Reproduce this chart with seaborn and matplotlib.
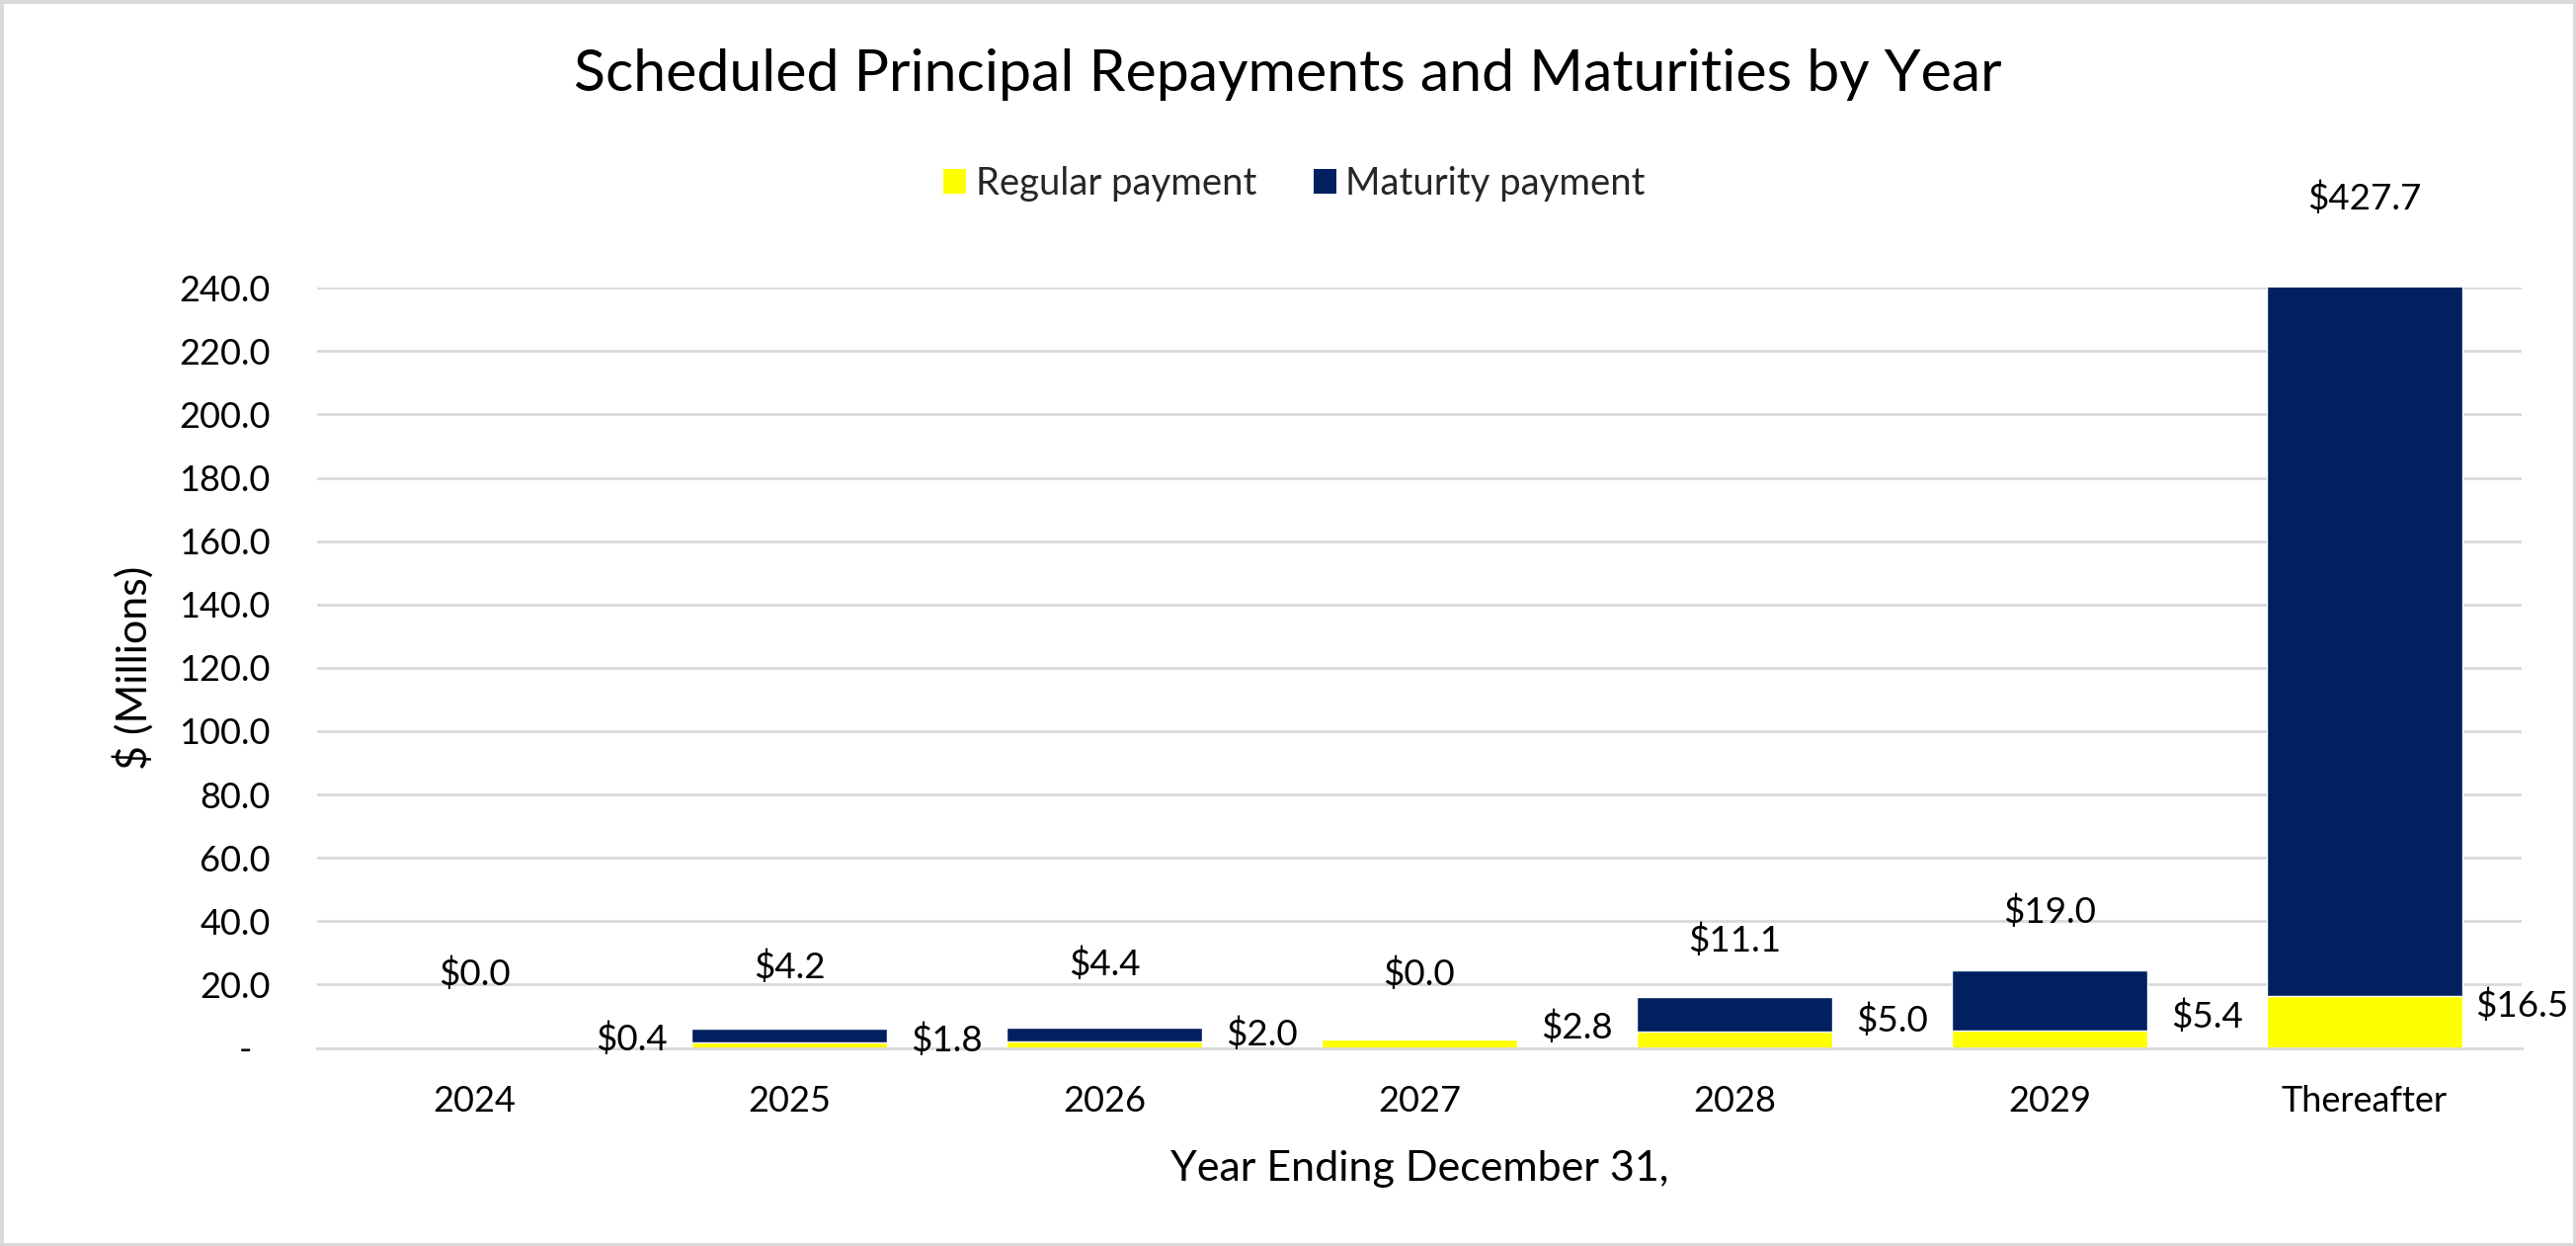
import matplotlib
matplotlib.use("Agg")
import matplotlib.pyplot as plt
from matplotlib.patches import Patch
import seaborn as sns
import pandas as pd
import numpy as np

# ---- data ----
years = ["2024", "2025", "2026", "2027", "2028", "2029", "Thereafter"]
regular_payment = [0.4, 1.8, 2.0, 2.8, 5.0, 5.4, 16.5]
maturity_payment = [0.0, 4.2, 4.4, 0.0, 11.1, 19.0, 427.7]
y_ticks = [0, 20, 40, 60, 80, 100, 120, 140, 160, 180, 200, 220, 240]

# label placement (layout only, data units)
maturity_label_y = [23.4, 25.6, 26.5, 23.4, 34.0, 43.0, 268.4]
regular_label_y = [2.8, 2.5, 4.4, 6.5, 8.7, 10.0, 13.4]

YELLOW = "#FFFF00"
NAVY = "#002060"
GRID = "#D9D9D9"
FONT = ["Lato", "DejaVu Sans"]

sns.set_theme(style="white")
plt.rcParams["font.family"] = FONT

df = pd.DataFrame({
    "year": years,
    "regular": regular_payment,
    "maturity": maturity_payment,
})
df["total"] = df["regular"] + df["maturity"]

fig = plt.figure(figsize=(26.08, 12.61), dpi=100, facecolor="white",
                 edgecolor=GRID, linewidth=5)
ax = fig.add_axes([0.123, 0.159, 0.979 - 0.123, 0.769 - 0.159])

sns.barplot(data=df, x="year", y="total", order=years, color=NAVY,
            width=0.62, saturation=1, ax=ax, zorder=2)
sns.barplot(data=df, x="year", y="regular", order=years, color=YELLOW,
            width=0.62, saturation=1, ax=ax, zorder=2)

ax.set_ylim(0, 240)
ax.set_xlim(-0.5, len(years) - 0.5)
ax.set_yticks(y_ticks)
ax.set_yticklabels(["-  " if v == 0 else f"{v:.1f}" for v in y_ticks])
ax.yaxis.grid(True, color=GRID, linewidth=2.0, zorder=0)
ax.set_axisbelow(True)
for s in ["top", "right", "left"]:
    ax.spines[s].set_visible(False)
ax.spines["bottom"].set_color(GRID)
ax.spines["bottom"].set_linewidth(2.0)
ax.spines["bottom"].set_zorder(3)

ax.tick_params(axis="y", length=0, pad=34, labelsize=26, colors="black")
ax.tick_params(axis="x", which="major", length=0, pad=27, labelsize=26, colors="black")
ax.set_xticks(np.arange(-0.5, len(years), 1.0), minor=True)
ax.tick_params(axis="x", which="minor", length=9, width=2.0, color=GRID)

ax.set_xlabel("Year Ending December 31,", fontsize=31, labelpad=24, color="black")
ax.set_ylabel("$ (Millions)", fontsize=31, labelpad=18, color="black")

for i in range(len(years)):
    ax.text(i, maturity_label_y[i], f"${maturity_payment[i]:.1f}",
            ha="center", va="center", fontsize=26.5, color="black",
            clip_on=False, zorder=5)
    ax.text(i + 0.5, regular_label_y[i], f"${regular_payment[i]:.1f}",
            ha="center", va="center", fontsize=26.5, color="black",
            clip_on=False, zorder=5)

fig.suptitle("Scheduled Principal Repayments and Maturities by Year",
             x=0.5, y=1 - 75 / 1261, va="center", fontsize=42.5, color="black")

handles = [Patch(facecolor=YELLOW, edgecolor="none", label="Regular payment"),
           Patch(facecolor=NAVY, edgecolor="none", label="Maturity payment")]
fig.legend(handles=handles, loc="center", bbox_to_anchor=(0.5025, 1 - 186 / 1261),
           ncol=2, frameon=False, fontsize=27.5, handlelength=0.6, handleheight=0.6,
           handletextpad=0.25, columnspacing=1.5)

fig.savefig("out.png", dpi=100)
